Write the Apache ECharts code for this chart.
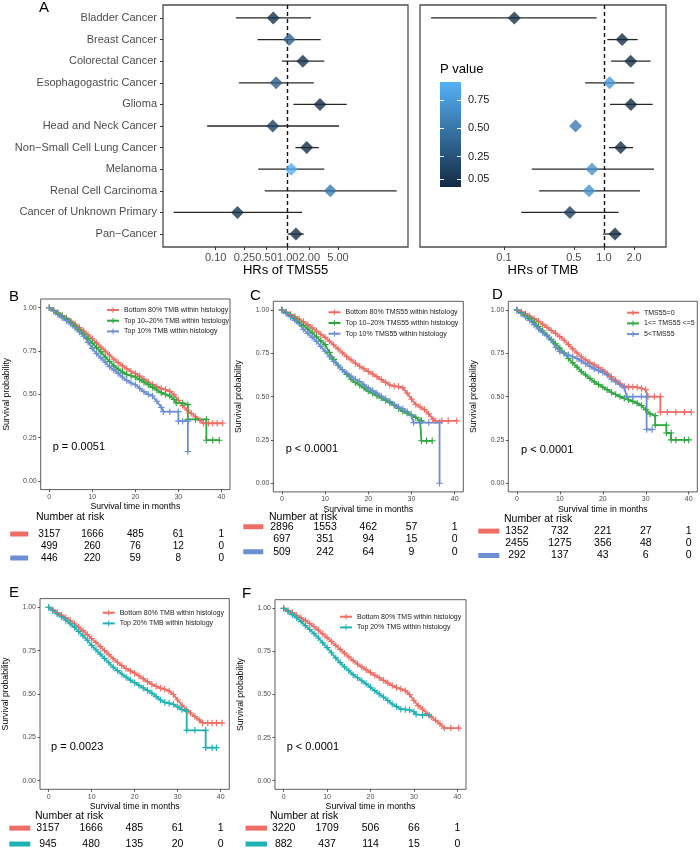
<!DOCTYPE html>
<html><head><meta charset="utf-8">
<script src="https://cdn.jsdelivr.net/npm/echarts@6/dist/echarts.min.js"></script>
<style>html,body{margin:0;padding:0;background:#fff}#c{width:700px;height:852px}</style>
</head><body><div id="c"></div>
<script>
// ---------------- DATA ----------------
const cancers = ['Bladder Cancer','Breast Cancer','Colorectal Cancer','Esophagogastric Cancer','Glioma','Head and Neck Cancer','Non\u2212Small Cell Lung Cancer','Melanoma','Renal Cell Carcinoma','Cancer of Unknown Primary','Pan\u2212Cancer'];
const tms55HR   = [0.63, 1.05, 1.62, 0.69, 2.81, 0.62, 1.84, 1.12, 3.91, 0.20, 1.30];
const tms55Low  = [0.19, 0.38, 0.83, 0.21, 1.20, 0.076, 1.28, 0.39, 0.48, 0.026, 1.00];
const tms55High = [2.11, 2.87, 3.22, 2.30, 6.6, 5.16, 2.70, 3.22, 32.6, 1.58, 1.67];
const tms55P    = [0.05, 0.38, 0.05, 0.34, 0.02, 0.15, 0.01, 0.88, 0.53, 0.06, 0.01];
const tmbHR     = [0.127, 1.52, 1.85, 1.14, 1.86, 0.52, 1.47, 0.76, 0.71, 0.457, 1.29];
const tmbLow    = [0.0187, 1.08, 1.18, 0.65, 1.15, null, 1.12, 0.19, 0.225, 0.149, 0.98];
const tmbHigh   = [0.845, 2.17, 2.93, 2.01, 3.07, null, 1.95, 3.16, 2.29, 1.40, 1.49];
const tmbP      = [0.03, 0.02, 0.01, 0.75, 0.01, 0.55, 0.01, 0.70, 0.72, 0.12, 0.005];
const hrTicksTMS55 = [0.10, 0.25, 0.50, 1.00, 2.00, 5.00];
const hrTicksTMB   = [0.1, 0.5, 1.0, 2.0];
const hrRangeTMS55 = [0.0185, 46.9];
const hrRangeTMB   = [0.0145, 4.17];
const pTicks = [0.05, 0.25, 0.50, 0.75];
const pScale = [0, 0.91];
const pBar = [-0.02, 0.91];

const kmXTicks = [0, 10, 20, 30, 40];
const kmYTicks = [0, 0.25, 0.5, 0.75, 1];
const riskTimes = [0, 10, 20, 30, 40];

// survival curves [months, probability]
const survTmbBottom80 = [[0,1],[1,0.985],[2,0.97],[3,0.955],[4,0.94],[5,0.923],[6,0.905],[7,0.885],[8,0.865],[9,0.843],[10,0.82],[11,0.797],[12,0.773],[13,0.75],[14,0.727],[15,0.703],[16,0.683],[17,0.664],[18,0.647],[19,0.633],[20,0.62],[21,0.605],[22,0.588],[23,0.571],[24,0.556],[25,0.544],[26,0.534],[27,0.527],[28,0.517],[29,0.497],[30,0.465],[31,0.435],[32,0.41],[33,0.39],[34,0.37],[35,0.35],[35.8,0.333],[37,0.333],[38,0.333],[39,0.333],[40.3,0.333]];
const survTmbTop1020 = [[0,1],[1,0.985],[2,0.968],[3,0.952],[4,0.935],[5,0.915],[6,0.895],[7,0.872],[8,0.848],[9,0.822],[10,0.795],[11,0.77],[12,0.745],[13,0.715],[14,0.69],[15,0.665],[16,0.645],[17,0.628],[18,0.615],[19,0.607],[20,0.6],[21,0.585],[22,0.57],[23,0.555],[24,0.54],[25,0.525],[26,0.51],[27,0.5],[28,0.49],[29,0.47],[29.5,0.45],[31,0.45],[32.2,0.44],[32.2,0.355],[34,0.355],[36.5,0.355],[36.5,0.235],[38,0.235],[39.5,0.235]];
const survTmbTop10 = [[0,1],[1,0.98],[2,0.96],[3,0.943],[4,0.925],[5,0.905],[6,0.883],[7,0.86],[8,0.835],[9,0.8],[10,0.765],[11,0.735],[12,0.71],[13,0.685],[14,0.66],[15,0.64],[16,0.62],[17,0.6],[18,0.58],[19,0.565],[20,0.555],[21,0.535],[22,0.515],[23,0.5],[24,0.49],[25,0.46],[26,0.425],[26.5,0.4],[28,0.4],[30,0.4],[30,0.345],[31,0.345],[32.2,0.345],[32.2,0.17]];
const survTms55Bottom80 = [[0,1],[1,0.988],[2,0.975],[3,0.962],[4,0.948],[5,0.932],[6,0.915],[7,0.897],[8,0.878],[9,0.86],[10,0.842],[11,0.82],[12,0.798],[13,0.775],[14,0.752],[15,0.73],[16,0.712],[17,0.693],[18,0.675],[19,0.66],[20,0.645],[21,0.63],[22,0.615],[23,0.598],[24,0.582],[25,0.567],[26,0.56],[27,0.558],[28,0.55],[29,0.52],[30,0.485],[31,0.455],[32,0.44],[33,0.425],[34,0.4],[35,0.37],[35.5,0.36],[37,0.36],[38.5,0.36],[40.5,0.36]];
const survTms55Top1020 = [[0,1],[1,0.985],[2,0.968],[3,0.95],[4,0.93],[5,0.91],[6,0.89],[7,0.868],[8,0.845],[9,0.822],[10,0.8],[11,0.755],[12,0.715],[13,0.68],[14,0.655],[15,0.628],[16,0.6],[17,0.582],[18,0.567],[19,0.55],[20,0.532],[21,0.52],[22,0.505],[23,0.492],[24,0.478],[25,0.465],[26,0.45],[27,0.432],[28,0.415],[29,0.405],[30,0.395],[31,0.38],[32,0.36],[32.3,0.36],[32.3,0.245],[33.5,0.245],[34.8,0.245]];
const survTms55Top10 = [[0,1],[1,0.98],[2,0.96],[3,0.94],[4,0.92],[5,0.888],[6,0.865],[7,0.842],[8,0.818],[9,0.79],[10,0.762],[11,0.73],[12,0.703],[13,0.68],[14,0.655],[15,0.635],[16,0.618],[17,0.6],[18,0.587],[19,0.568],[20,0.55],[21,0.535],[22,0.52],[23,0.503],[24,0.488],[25,0.472],[26,0.455],[27,0.44],[28,0.43],[29,0.413],[30,0.39],[30.5,0.35],[32,0.35],[34,0.35],[36.5,0.35],[36.5,0]];
const survTms55Zero = [[0,1],[1,0.99],[2,0.978],[3,0.965],[4,0.95],[5,0.935],[6,0.918],[7,0.9],[8,0.882],[9,0.865],[10,0.846],[11,0.825],[12,0.8],[13,0.775],[14,0.752],[15,0.73],[16,0.712],[17,0.697],[18,0.683],[19,0.668],[20,0.654],[21,0.635],[22,0.615],[23,0.595],[24,0.577],[25,0.56],[26,0.555],[27,0.555],[28,0.554],[29,0.547],[30,0.54],[30.5,0.5],[32,0.5],[33.4,0.5],[33.4,0.41],[35,0.41],[37,0.41],[39,0.41],[40.6,0.41]];
const survTms55Mid = [[0,1],[1,0.985],[2,0.968],[3,0.95],[4,0.93],[5,0.905],[6,0.88],[7,0.855],[8,0.83],[9,0.805],[10,0.78],[11,0.752],[12,0.72],[13,0.695],[14,0.67],[15,0.645],[16,0.625],[17,0.605],[18,0.585],[19,0.57],[20,0.555],[21,0.54],[22,0.525],[23,0.512],[24,0.5],[25,0.49],[26,0.482],[27,0.472],[28,0.462],[29,0.448],[30,0.425],[31,0.4],[32.2,0.39],[32.2,0.335],[34.8,0.335],[34.8,0.29],[35.9,0.29],[35.9,0.25],[37,0.25],[39,0.25],[40,0.25]];
const survTms55High = [[0,1],[1,0.98],[2,0.96],[3,0.94],[4,0.915],[5,0.89],[6,0.87],[7,0.85],[8,0.825],[9,0.785],[10,0.76],[11,0.75],[12,0.74],[13,0.73],[14,0.72],[15,0.705],[16,0.69],[17,0.675],[18,0.66],[19,0.65],[20,0.64],[21,0.625],[22,0.6],[23,0.585],[24,0.57],[25,0.55],[25.6,0.5],[27,0.5],[29,0.5],[30.2,0.5],[30.2,0.31],[31.5,0.31]];
const survTmbTop20 = [[0,1],[1,0.98],[2,0.962],[3,0.945],[4,0.925],[5,0.905],[6,0.885],[7,0.86],[8,0.835],[9,0.81],[10,0.78],[11,0.755],[12,0.73],[13,0.705],[14,0.68],[15,0.655],[16,0.635],[17,0.615],[18,0.597],[19,0.58],[20,0.565],[21,0.55],[22,0.535],[23,0.52],[24,0.505],[25,0.485],[26,0.465],[27,0.452],[28,0.447],[29,0.44],[30,0.425],[31,0.41],[32.1,0.4],[32.1,0.29],[34,0.29],[36.5,0.29],[36.5,0.19],[38,0.19],[39,0.19]];
const survTmsBottom80 = [[0,1],[1,0.988],[2,0.975],[3,0.96],[4,0.945],[5,0.93],[6,0.912],[7,0.893],[8,0.873],[9,0.852],[10,0.83],[11,0.808],[12,0.785],[13,0.762],[14,0.74],[15,0.718],[16,0.697],[17,0.677],[18,0.66],[19,0.643],[20,0.627],[21,0.612],[22,0.597],[23,0.582],[24,0.566],[25,0.552],[26,0.54],[27,0.532],[28,0.522],[29,0.5],[30,0.465],[31,0.435],[32,0.415],[33,0.39],[34,0.37],[35,0.35],[36,0.33],[37,0.305],[38.5,0.305],[40.3,0.305]];
const survTmsTop20 = [[0,1],[1,0.982],[2,0.963],[3,0.944],[4,0.923],[5,0.9],[6,0.877],[7,0.853],[8,0.828],[9,0.8],[10,0.772],[11,0.742],[12,0.712],[13,0.685],[14,0.66],[15,0.638],[16,0.615],[17,0.597],[18,0.58],[19,0.562],[20,0.542],[21,0.522],[22,0.503],[23,0.485],[24,0.465],[25,0.445],[26,0.43],[27,0.415],[28,0.413],[29,0.41],[30,0.4],[30.5,0.385],[32,0.38],[33.5,0.38]];

const riskB1 = [3157, 1666, 485, 61, 1], riskB2 = [499, 260, 76, 12, 0], riskB3 = [446, 220, 59, 8, 0];
const riskC1 = [2896, 1553, 462, 57, 1], riskC2 = [697, 351, 94, 15, 0], riskC3 = [509, 242, 64, 9, 0];
const riskD1 = [1352, 732, 221, 27, 1], riskD2 = [2455, 1275, 356, 48, 0], riskD3 = [292, 137, 43, 6, 0];
const riskE1 = [3157, 1666, 485, 61, 1], riskE2 = [945, 480, 135, 20, 0];
const riskF1 = [3220, 1709, 506, 66, 1], riskF2 = [882, 437, 114, 15, 0];

// ---------------- STYLE ----------------
const FONT = '"Liberation Sans", Arial, Helvetica, sans-serif';
const DARK = '#132B43', LIGHT = '#56B1F7';
const RED = '#EE6E66', GREEN = '#2DA83F', BLUE = '#6C8FD3', TEAL = '#1FB2B4';
const PLUS = 'path://M0,4.1H10V5.9H0ZM4.1,0H5.9V10H4.1Z';

const grids = [], xAxes = [], yAxes = [], series = [], legends = [], graphics = [], diamondIdx = [];
function addGrid(g) { grids.push(g); return grids.length - 1; }
function txt(text, x, y, size, color, align) {
  graphics.push({type: 'text', x: x, y: y, silent: true, style: {text: text, fill: color || '#000', font: size + 'px ' + FONT, align: align || 'left', verticalAlign: 'middle'}});
}
const NOLINE = {show: false, onZero: false};

// ---------------- PANEL A ----------------
function forestPanel(pos, hr, lo, hi, p, ticks, dec, range, showLabels, title) {
  const gi = addGrid({left: pos[0], top: pos[1], width: pos[2], height: pos[3], show: true, borderColor: '#4d4d4d', borderWidth: 1.3});
  const lt = ticks.map(Math.log10);
  const xi = xAxes.push({type: 'value', gridIndex: gi, position: 'bottom', min: Math.log10(range[0]), max: Math.log10(range[1]),
    axisLine: NOLINE, splitLine: {show: false},
    axisTick: {show: true, customValues: lt, length: 3, lineStyle: {color: '#333', width: 1}},
    axisLabel: {customValues: lt, formatter: v => Math.pow(10, v).toFixed(dec), fontSize: 11, color: '#4d4d4d', margin: 5, fontFamily: FONT},
    name: title, nameLocation: 'middle', nameGap: 17, nameTextStyle: {fontSize: 13, color: '#000', fontFamily: FONT}}) - 1;
  const idx = cancers.map((c, i) => i);
  const yi = yAxes.push({type: 'value', gridIndex: gi, position: 'left', inverse: true, min: -0.6, max: cancers.length - 0.4,
    axisLine: NOLINE, splitLine: {show: false},
    axisTick: {show: showLabels, customValues: idx, length: 3, lineStyle: {color: '#333', width: 1}},
    axisLabel: {show: showLabels, customValues: idx, formatter: v => cancers[Math.round(v)] || '', fontSize: 11, color: '#4d4d4d', margin: 6, fontFamily: FONT}}) - 1;
  const bars = [];
  lo.forEach((l, i) => { if (l != null && hi[i] != null) bars.push([Math.log10(l), i, Math.log10(hi[i])]); });
  series.push({type: 'custom', xAxisIndex: xi, yAxisIndex: yi, data: bars, z: 2, silent: true, animation: false,
    renderItem: (params, api) => {
      const a = api.coord([api.value(0), api.value(1)]), b = api.coord([api.value(2), api.value(1)]);
      return {type: 'line', shape: {x1: a[0], y1: a[1], x2: b[0], y2: b[1]}, style: {stroke: '#262626', lineWidth: 1.3}};
    }});
  diamondIdx.push(series.length);
  series.push({type: 'scatter', xAxisIndex: xi, yAxisIndex: yi, data: hr.map((h, i) => [Math.log10(h), i, p[i]]),
    symbol: 'diamond', symbolSize: 13, z: 5, animation: false, silent: true,
    markLine: {silent: true, symbol: ['none', 'none'], label: {show: false}, animation: false,
      lineStyle: {type: [4, 3], color: '#111', width: 1.4}, data: [{xAxis: 0}]}});
}
forestPanel([163, 5, 245, 242], tms55HR, tms55Low, tms55High, tms55P, hrTicksTMS55, 2, hrRangeTMS55, true, 'HRs of TMS55');
forestPanel([420, 5, 246, 242], tmbHR, tmbLow, tmbHigh, tmbP, hrTicksTMB, 1, hrRangeTMB, false, 'HRs of TMB');

// colour bar legend
(function () {
  const gi = addGrid({left: 440, top: 82, width: 21, height: 105});
  const xi = xAxes.push({type: 'value', gridIndex: gi, min: 0, max: 1, show: false}) - 1;
  const yi = yAxes.push({type: 'value', gridIndex: gi, position: 'right', min: pBar[0], max: pBar[1], z: 10,
    axisLine: NOLINE, splitLine: {show: false},
    axisTick: {inside: true, length: 4, customValues: pTicks, lineStyle: {color: '#fff', width: 1}},
    axisLabel: {customValues: pTicks, formatter: v => v.toFixed(2), fontSize: 11, color: '#1a1a1a', margin: 7, fontFamily: FONT}}) - 1;
  yAxes.push({type: 'value', gridIndex: gi, position: 'left', min: pBar[0], max: pBar[1], z: 10,
    axisLine: NOLINE, splitLine: {show: false}, axisLabel: {show: false},
    axisTick: {inside: true, length: 4, customValues: pTicks, lineStyle: {color: '#fff', width: 1}}});
  series.push({type: 'custom', xAxisIndex: xi, yAxisIndex: yi, data: [[0, pBar[0], 1, pBar[1]]], z: 1, silent: true, animation: false,
    renderItem: (params, api) => {
      const a = api.coord([api.value(0), api.value(1)]), b = api.coord([api.value(2), api.value(3)]);
      return {type: 'rect', shape: {x: a[0], y: b[1], width: b[0] - a[0], height: a[1] - b[1]},
        style: {fill: new echarts.graphic.LinearGradient(0, 1, 0, 0, [{offset: 0, color: DARK}, {offset: 1, color: LIGHT}])}};
    }});
  txt('P value', 440, 69, 13, '#000');
})();
txt('A', 39, 8, 15, '#000');

// ---------------- KM PANELS ----------------
function kmPanel(c) {
  const gi = addGrid({left: c.grid[0], top: c.grid[1], width: c.grid[2], height: c.grid[3], show: true, borderColor: '#333', borderWidth: 0.8});
  const xi = xAxes.push({type: 'value', gridIndex: gi, position: 'bottom', min: -2, max: 42, axisLine: NOLINE, splitLine: {show: false},
    axisTick: {customValues: kmXTicks, length: 2.5, lineStyle: {color: '#333', width: 0.8}},
    axisLabel: {customValues: kmXTicks, fontSize: 7, color: '#4d4d4d', margin: 4, fontFamily: FONT},
    name: 'Survival time in months', nameLocation: 'middle', nameGap: 13, nameTextStyle: {fontSize: 8.7, color: '#000', fontFamily: FONT}}) - 1;
  const yi = yAxes.push({type: 'value', gridIndex: gi, position: 'left', min: -0.05, max: 1.05, axisLine: NOLINE, splitLine: {show: false},
    axisTick: {customValues: kmYTicks, length: 2.5, lineStyle: {color: '#333', width: 0.8}},
    axisLabel: {customValues: kmYTicks, formatter: v => v.toFixed(2), fontSize: 7, color: '#4d4d4d', margin: 4, fontFamily: FONT},
    name: 'Survival probability', nameLocation: 'middle', nameGap: 30, nameTextStyle: {fontSize: 8.7, color: '#000', fontFamily: FONT}}) - 1;
  c.curves.forEach(cv => series.push({type: 'line', name: cv.name, data: cv.data, xAxisIndex: xi, yAxisIndex: yi,
    symbol: PLUS, symbolSize: 6.5, showAllSymbol: true, color: cv.color, itemStyle: {color: cv.color},
    lineStyle: {width: 1.8, color: cv.color}, animation: false, silent: true, z: 3}));
  legends.push({left: c.leg[0], top: c.leg[1], orient: 'vertical', padding: 0, itemWidth: 12, itemHeight: 7, itemGap: 3.7,
    selectedMode: false, data: c.curves.map(cv => cv.name), textStyle: {fontSize: 7, color: '#1a1a1a', fontFamily: FONT}});
  // risk table
  const rg = addGrid({left: c.grid[0], top: c.risk[0], width: c.grid[2], height: c.risk[1]});
  const rxi = xAxes.push({type: 'value', gridIndex: rg, min: -2, max: 42, show: false}) - 1;
  const rich = {};
  c.curves.forEach((cv, i) => { rich['s' + i] = {width: c.sw, height: 5, backgroundColor: cv.color}; });
  const ryi = yAxes.push({type: 'category', gridIndex: rg, inverse: true, data: c.rows.map((r, i) => String(i)),
    axisLine: NOLINE, axisTick: {show: false}, splitLine: {show: false},
    axisLabel: {formatter: (v, i) => '{s' + i + '| }', rich: rich, margin: c.rm}}) - 1;
  const rdata = [];
  c.rows.forEach((row, r) => row.forEach((n, k) => rdata.push([riskTimes[k], r, n])));
  series.push({type: 'custom', xAxisIndex: rxi, yAxisIndex: ryi, data: rdata, silent: true, animation: false,
    renderItem: (params, api) => {
      const pt = api.coord([api.value(0), api.value(1)]);
      return {type: 'text', x: pt[0], y: pt[1], style: {text: String(api.value(2)), font: c.rf + 'px ' + FONT, fill: '#000', align: 'center', verticalAlign: 'middle'}};
    }});
  txt(c.letter[0], c.letter[1], c.letter[2], 15, '#000');
  txt(c.p[0], c.p[1], c.p[2], 11, '#000');
  txt('Number at risk', c.nar[0], c.nar[1], 10.5, '#000');
}

kmPanel({grid: [40.7, 299, 189.3, 190.6], leg: [106, 306.5],
  curves: [{name: 'Bottom 80% TMB within histology', data: survTmbBottom80, color: RED},
           {name: 'Top 10\u201320% TMB within histology', data: survTmbTop1020, color: GREEN},
           {name: 'Top 10% TMB within histology', data: survTmbTop10, color: BLUE}],
  risk: [528, 36], rows: [riskB1, riskB2, riskB3], sw: 18, rm: 12.5, rf: 10,
  letter: ['B', 9, 296.5], p: ['p = 0.0051', 52.7, 446.7], nar: [36, 516.7]});
kmPanel({grid: [273.3, 301.3, 190, 190.6], leg: [327.5, 308.8],
  curves: [{name: 'Bottom 80% TMS55 within histology', data: survTms55Bottom80, color: RED},
           {name: 'Top 10\u201320% TMS55 within histology', data: survTms55Top1020, color: GREEN},
           {name: 'Top 10% TMS55 within histology', data: survTms55Top10, color: BLUE}],
  risk: [520.5, 37.5], rows: [riskC1, riskC2, riskC3], sw: 20, rm: 10, rf: 10.5,
  letter: ['C', 250, 296], p: ['p < 0.0001', 285.7, 449.3], nar: [269, 516.7]});
kmPanel({grid: [508.3, 301.3, 189, 190.6], leg: [626, 309.2],
  curves: [{name: 'TMS55=0', data: survTms55Zero, color: RED},
           {name: '1<= TMS55 <=5', data: survTms55Mid, color: GREEN},
           {name: '5<TMS55', data: survTms55High, color: BLUE}],
  risk: [525, 36.6], rows: [riskD1, riskD2, riskD3], sw: 21, rm: 9, rf: 10.5,
  letter: ['D', 492, 295], p: ['p < 0.0001', 521, 450], nar: [504, 519.3]});
kmPanel({grid: [39.3, 598.6, 190, 190.7], leg: [101.7, 609.2],
  curves: [{name: 'Bottom 80% TMB within histology', data: survTmbBottom80, color: RED},
           {name: 'Top 20% TMB within histology', data: survTmbTop20, color: TEAL}],
  risk: [820.2, 35.4], rows: [riskE1, riskE2], sw: 21, rm: 9, rf: 10.5,
  letter: ['E', 9, 592.5], p: ['p = 0.0023', 51, 746.7], nar: [35, 816]});
kmPanel({grid: [275, 599.7, 191, 189.6], leg: [339, 613.2],
  curves: [{name: 'Bottom 80% TMS within histology', data: survTmsBottom80, color: RED},
           {name: 'Top 20% TMS within histology', data: survTmsTop20, color: TEAL}],
  risk: [820.2, 35.4], rows: [riskF1, riskF2], sw: 21.5, rm: 8, rf: 10.5,
  letter: ['F', 242, 593.5], p: ['p < 0.0001', 286.7, 747.3], nar: [270, 816]});

const chart = echarts.init(document.getElementById('c'), null, {renderer: 'canvas'});
chart.setOption({
  animation: false,
  textStyle: {fontFamily: FONT},
  grid: grids, xAxis: xAxes, yAxis: yAxes, series: series, legend: legends, graphic: graphics,
  visualMap: [{type: 'continuous', show: false, min: pScale[0], max: pScale[1], dimension: 2, seriesIndex: diamondIdx, inRange: {color: [DARK, LIGHT]}}]
});
</script></body></html>
